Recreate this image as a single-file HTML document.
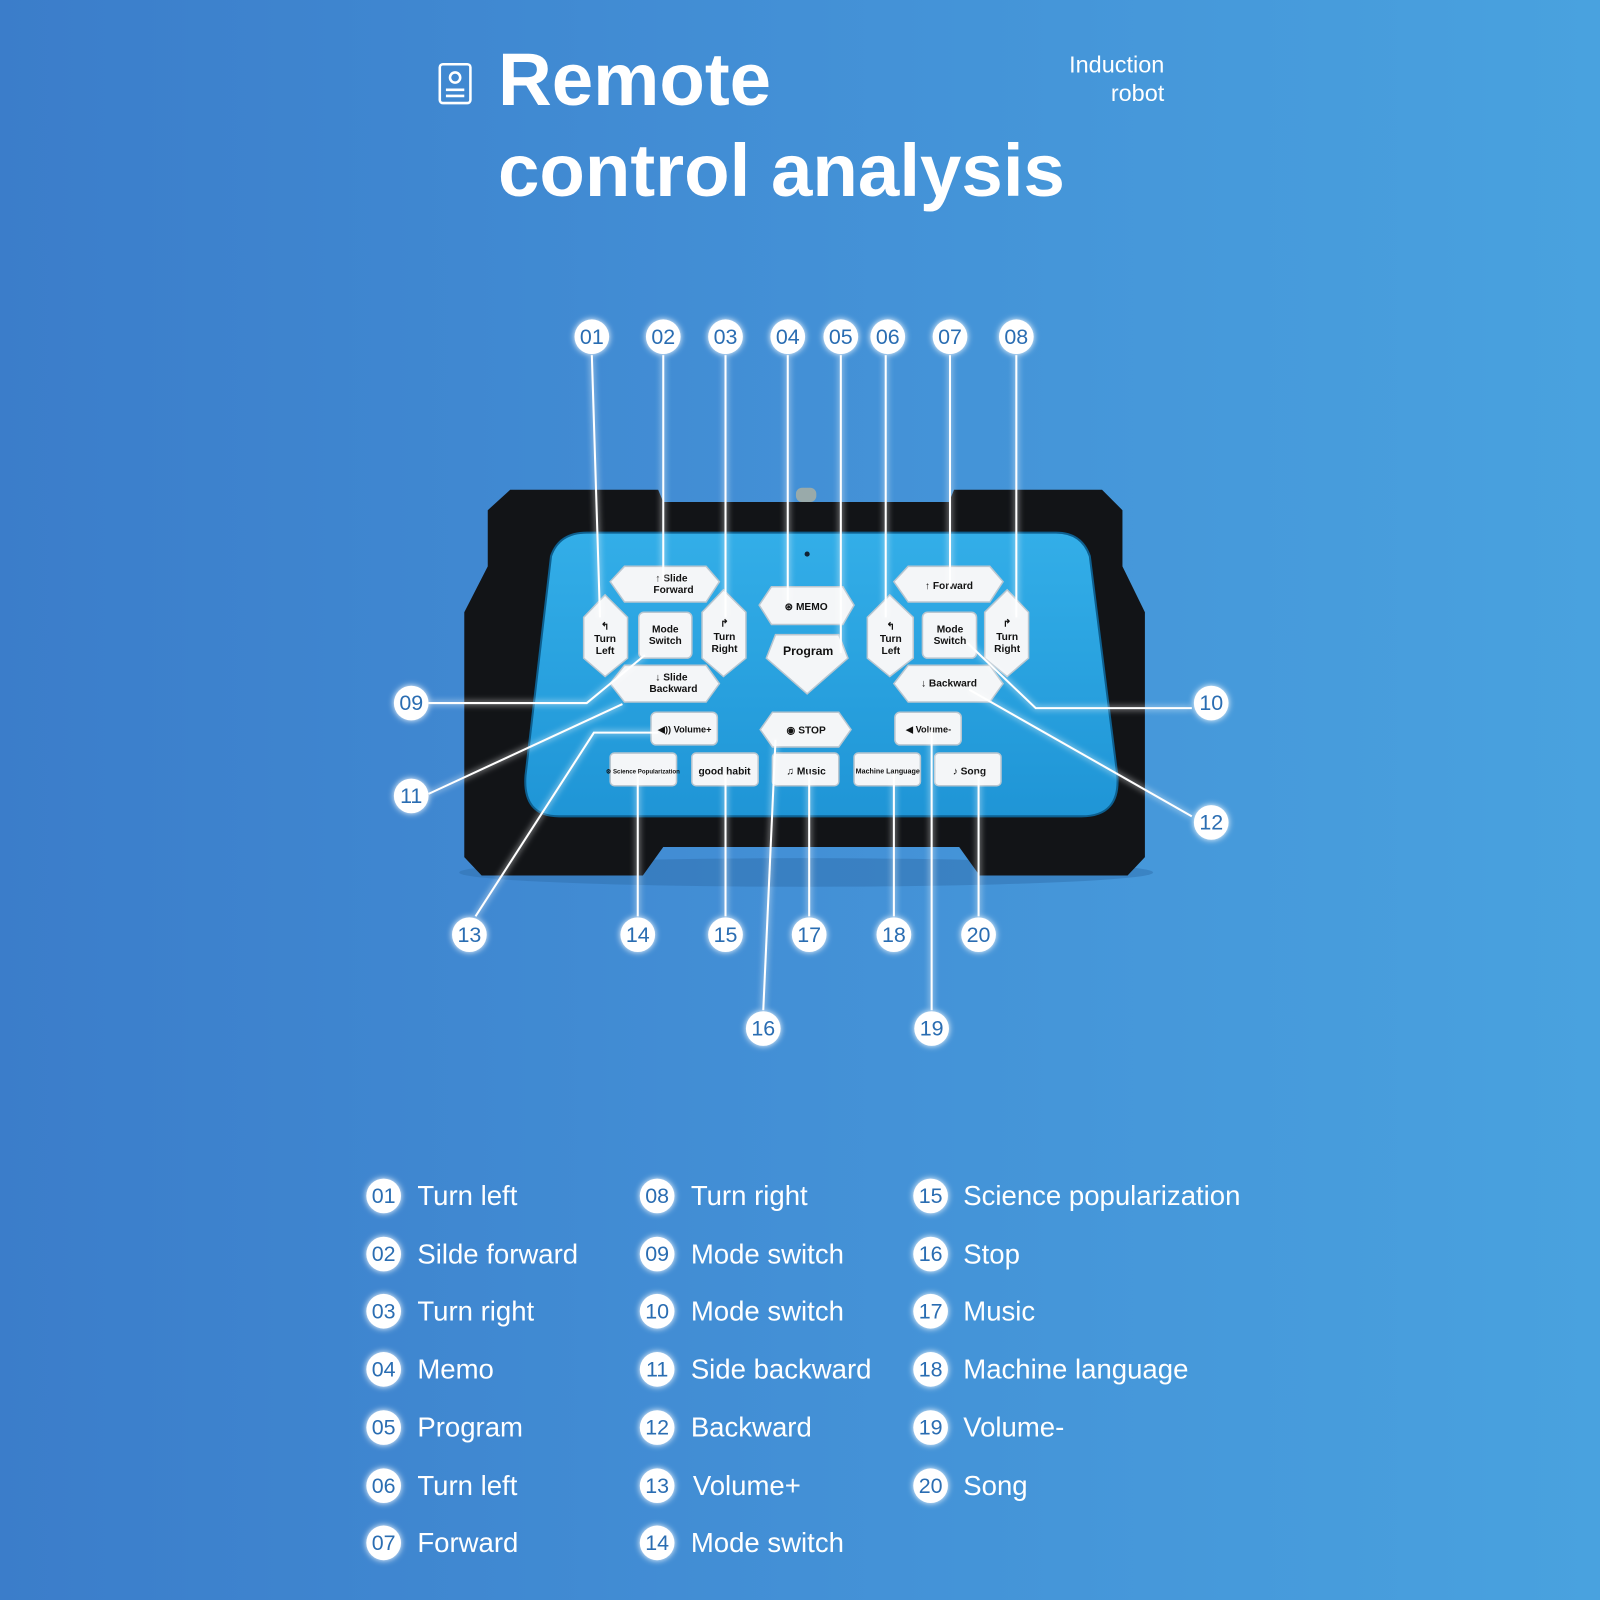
<!DOCTYPE html>
<html><head><meta charset="utf-8"><style>
html,body{margin:0;padding:0;}
body{width:1600px;height:1600px;overflow:hidden;background:linear-gradient(90deg,#3b7dca 0%,#4390d6 50%,#49a2df 100%);}
svg{display:block}
</style></head><body>
<svg width="1600" height="1600" viewBox="0 0 1568 1568" xmlns="http://www.w3.org/2000/svg" font-family="Liberation Sans, sans-serif">
<defs>
<filter id="glow" x="-50%" y="-50%" width="200%" height="200%"><feGaussianBlur stdDeviation="3" result="b"/><feMerge><feMergeNode in="b"/><feMergeNode in="SourceGraphic"/></feMerge></filter>
<linearGradient id="panel" x1="0" y1="0" x2="0" y2="1"><stop offset="0" stop-color="#33aee8"/><stop offset="1" stop-color="#1f95d6"/></linearGradient>
</defs>
<!-- title -->
<g fill="none" stroke="#fff" stroke-width="2.5"><rect x="431" y="63" width="30" height="38" rx="3"/><circle cx="446" cy="76" r="5"/><line x1="437" y1="88" x2="455" y2="88"/><line x1="437" y1="94" x2="455" y2="94"/></g>
<text x="488" y="103" fill="#fff" font-size="73" font-weight="bold">Remote</text>
<text x="488" y="192" fill="#fff" font-size="73" font-weight="bold">control analysis</text>
<text x="1141" y="71" fill="#fff" font-size="23" text-anchor="end">Induction</text>
<text x="1141" y="99" fill="#fff" font-size="23" text-anchor="end">robot</text>

<!-- remote body -->
<ellipse cx="790" cy="855" rx="340" ry="14" fill="#2f6fae" opacity="0.5"/>
<polygon points="500,480 645,480 650,492 930,492 935,480 1080,480 1100,500 1100,555 1122,600 1122,840 1105,858 960,858 940,830 650,830 630,858 472,858 455,840 455,600 478,555 478,500" fill="#121417"/>
<rect x="780" y="478" width="20" height="14" rx="6" fill="#9aa"/>
<path d="M575,522 L1035,522 Q1060,522 1068,545 L1095,760 Q1098,800 1060,800 L548,800 Q512,800 515,760 L540,545 Q548,522 575,522 Z" fill="url(#panel)" stroke="#0d5f8f" stroke-width="2"/>
<circle cx="791" cy="543" r="2.5" fill="#123"/>

<!-- buttons -->
<g fill="#f4f6f8" stroke="#b9c6d0" stroke-width="1.5">
<polygon points="593,583 615,605 615,645 593,663 572,645 572,605"/>
<polygon points="612,555 692,555 705,570 692,590 612,590 598,570"/>
<rect x="626" y="600" width="52" height="45" rx="5"/>
<polygon points="709,578 731,600 731,645 709,663 688,645 688,600"/>
<polygon points="612,652 692,652 705,670 692,688 612,688 598,670"/>
<polygon points="756,575 826,575 837,593 826,612 756,612 744,593"/>
<polygon points="760,622 822,622 831,645 791,680 751,645"/>
<polygon points="872,583 895,605 895,645 872,663 850,645 850,605"/>
<polygon points="890,555 970,555 983,570 970,590 890,590 876,570"/>
<rect x="904" y="600" width="53" height="45" rx="5"/>
<polygon points="987,578 1008,600 1008,645 987,663 965,645 965,600"/>
<polygon points="890,652 970,652 983,670 970,688 890,688 876,670"/>
<rect x="638" y="698" width="65" height="32" rx="5"/>
<polygon points="757,698 822,698 834,715 822,732 757,732 745,715"/>
<rect x="877" y="698" width="65" height="32" rx="5"/>
<rect x="598" y="738" width="65" height="32" rx="4"/>
<rect x="678" y="738" width="65" height="32" rx="4"/>
<rect x="757" y="738" width="65" height="32" rx="4"/>
<rect x="837" y="738" width="65" height="32" rx="4"/>
<rect x="916" y="738" width="65" height="32" rx="4"/>
</g>
<g fill="#111" font-size="10" font-weight="bold" text-anchor="middle">
<text x="593" y="617">↰</text><text x="593" y="629">Turn</text><text x="593" y="641">Left</text>
<text x="658" y="570">↑ Slide</text><text x="660" y="581">Forward</text>
<text x="652" y="620">Mode</text><text x="652" y="631">Switch</text>
<text x="710" y="614">↱</text><text x="710" y="627">Turn</text><text x="710" y="639">Right</text>
<text x="658" y="667">↓ Slide</text><text x="660" y="678">Backward</text>
<text x="790" y="598">⊛ MEMO</text>
<text x="792" y="642" font-size="12">Program</text>
<text x="873" y="617">↰</text><text x="873" y="629">Turn</text><text x="873" y="641">Left</text>
<text x="930" y="577">↑ Forward</text>
<text x="931" y="620">Mode</text><text x="931" y="631">Switch</text>
<text x="987" y="614">↱</text><text x="987" y="627">Turn</text><text x="987" y="639">Right</text>
<text x="930" y="673">↓ Backward</text>
<text x="671" y="718" font-size="9">◀)) Volume+</text>
<text x="790" y="719">◉ STOP</text>
<text x="910" y="718" font-size="9">◀ Volume-</text>
<text x="630" y="758" font-size="6">⚙ Science Popularization</text>
<text x="710" y="759">good habit</text>
<text x="790" y="759">♫ Music</text>
<text x="870" y="758" font-size="7">Machine Language</text>
<text x="950" y="759">♪ Song</text>
</g>

<!-- connector lines -->
<g stroke="#fff" stroke-width="2" fill="none" filter="url(#glow)">
<line x1="580" y1="348" x2="588" y2="605"/>
<line x1="650" y1="348" x2="650" y2="570"/>
<line x1="711" y1="348" x2="711" y2="605"/>
<line x1="772" y1="348" x2="772" y2="590"/>
<line x1="824" y1="348" x2="824" y2="640"/>
<line x1="868" y1="348" x2="868" y2="605"/>
<line x1="931" y1="348" x2="931" y2="575"/>
<line x1="996" y1="348" x2="996" y2="605"/>
<polyline points="420,689 575,689 632,642"/>
<line x1="420" y1="778" x2="610" y2="690"/>
<polyline points="466,898 582,718 645,718"/>
<polyline points="1168,694 1015,694 948,630"/>
<line x1="1168" y1="800" x2="950" y2="676"/>
<line x1="625" y1="898" x2="625" y2="758"/>
<line x1="711" y1="898" x2="711" y2="758"/>
<line x1="793" y1="898" x2="793" y2="758"/>
<line x1="876" y1="898" x2="876" y2="758"/>
<line x1="959" y1="898" x2="959" y2="758"/>
<line x1="748" y1="990" x2="760" y2="725"/>
<line x1="913" y1="990" x2="913" y2="715"/>
</g>

<!-- number circles -->
<g font-size="21" text-anchor="middle" fill="#2a6db2">
<g filter="url(#glow)" fill="#fff">
<circle cx="580" cy="330" r="17"/><circle cx="650" cy="330" r="17"/><circle cx="711" cy="330" r="17"/><circle cx="772" cy="330" r="17"/><circle cx="824" cy="330" r="17"/><circle cx="870" cy="330" r="17"/><circle cx="931" cy="330" r="17"/><circle cx="996" cy="330" r="17"/>
<circle cx="403" cy="689" r="17"/><circle cx="403" cy="780" r="17"/><circle cx="460" cy="916" r="17"/>
<circle cx="1187" cy="689" r="17"/><circle cx="1187" cy="806" r="17"/>
<circle cx="625" cy="916" r="17"/><circle cx="711" cy="916" r="17"/><circle cx="793" cy="916" r="17"/><circle cx="876" cy="916" r="17"/><circle cx="959" cy="916" r="17"/>
<circle cx="748" cy="1008" r="17"/><circle cx="913" cy="1008" r="17"/>
</g>
<text x="580" y="337">01</text><text x="650" y="337">02</text><text x="711" y="337">03</text><text x="772" y="337">04</text><text x="824" y="337">05</text><text x="870" y="337">06</text><text x="931" y="337">07</text><text x="996" y="337">08</text>
<text x="403" y="696">09</text><text x="403" y="787">11</text><text x="460" y="923">13</text>
<text x="1187" y="696">10</text><text x="1187" y="813">12</text>
<text x="625" y="923">14</text><text x="711" y="923">15</text><text x="793" y="923">17</text><text x="876" y="923">18</text><text x="959" y="923">20</text>
<text x="748" y="1015">16</text><text x="913" y="1015">19</text>
</g>

<!-- legend -->
<g filter="url(#glow)" fill="#fff">
<circle cx="376" cy="1172" r="17"/><circle cx="376" cy="1229" r="17"/><circle cx="376" cy="1285" r="17"/><circle cx="376" cy="1342" r="17"/><circle cx="376" cy="1399" r="17"/><circle cx="376" cy="1456" r="17"/><circle cx="376" cy="1512" r="17"/>
<circle cx="644" cy="1172" r="17"/><circle cx="644" cy="1229" r="17"/><circle cx="644" cy="1285" r="17"/><circle cx="644" cy="1342" r="17"/><circle cx="644" cy="1399" r="17"/><circle cx="644" cy="1456" r="17"/><circle cx="644" cy="1512" r="17"/>
<circle cx="912" cy="1172" r="17"/><circle cx="912" cy="1229" r="17"/><circle cx="912" cy="1285" r="17"/><circle cx="912" cy="1342" r="17"/><circle cx="912" cy="1399" r="17"/><circle cx="912" cy="1456" r="17"/>
</g>
<g font-size="21" text-anchor="middle" fill="#2a6db2">
<text x="376" y="1179">01</text><text x="376" y="1236">02</text><text x="376" y="1292">03</text><text x="376" y="1349">04</text><text x="376" y="1406">05</text><text x="376" y="1463">06</text><text x="376" y="1519">07</text>
<text x="644" y="1179">08</text><text x="644" y="1236">09</text><text x="644" y="1292">10</text><text x="644" y="1349">11</text><text x="644" y="1406">12</text><text x="644" y="1463">13</text><text x="644" y="1519">14</text>
<text x="912" y="1179">15</text><text x="912" y="1236">16</text><text x="912" y="1292">17</text><text x="912" y="1349">18</text><text x="912" y="1406">19</text><text x="912" y="1463">20</text>
</g>
<g font-size="27" fill="#fff">
<text x="409" y="1181">Turn left</text><text x="409" y="1238">Silde forward</text><text x="409" y="1294">Turn right</text><text x="409" y="1351">Memo</text><text x="409" y="1408">Program</text><text x="409" y="1465">Turn left</text><text x="409" y="1521">Forward</text>
<text x="677" y="1181">Turn right</text><text x="677" y="1238">Mode switch</text><text x="677" y="1294">Mode switch</text><text x="677" y="1351">Side backward</text><text x="677" y="1408">Backward</text><text x="679" y="1465">Volume+</text><text x="677" y="1521">Mode switch</text>
<text x="944" y="1181">Science popularization</text><text x="944" y="1238">Stop</text><text x="944" y="1294">Music</text><text x="944" y="1351">Machine language</text><text x="944" y="1408">Volume-</text><text x="944" y="1465">Song</text>
</g>
</svg>
</body></html>
